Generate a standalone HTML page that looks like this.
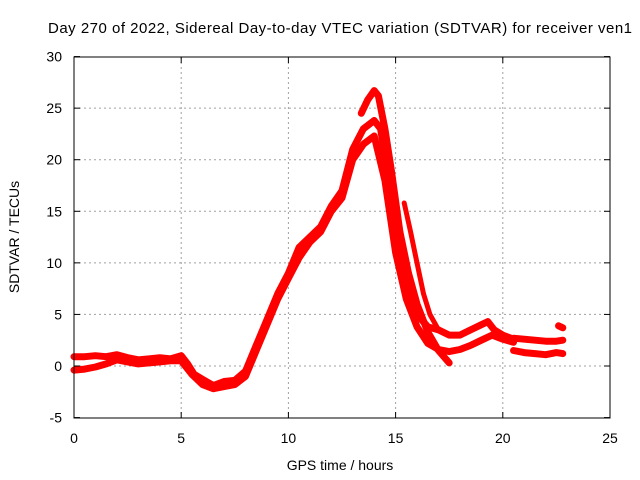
<!DOCTYPE html>
<html><head><meta charset="utf-8"><style>
body{margin:0;background:#fff;}
svg{display:block;font-family:"Liberation Sans",sans-serif;}
</style></head><body>
<svg id="chart" width="640" height="480" viewBox="0 0 640 480">
<text x="340" y="33" font-size="15" text-anchor="middle" textLength="584" lengthAdjust="spacing">Day 270 of 2022, Sidereal Day-to-day VTEC variation (SDTVAR) for receiver ven1</text>
<g id="grid"></g><g id="series"></g>
<rect x="74" y="57" width="536" height="361" fill="none" stroke="#000" stroke-width="1"/>
<g id="ticks"></g>
<text x="340" y="470" font-size="14" text-anchor="middle">GPS time / hours</text>
<text transform="translate(19,237) rotate(-90)" font-size="14" text-anchor="middle">SDTVAR / TECUs</text>
</svg>
<script>
const xTicks=[0,5,10,15,20,25];
const yTicks=[-5,0,5,10,15,20,25,30];
const hoursA=[0,0.5,1,1.5,2,2.5,3,3.5,4,4.5,5,5.3,5.6,6,6.5,7,7.5,8,8.5,9,9.5,10,10.5,11,11.5,12,12.5,13,13.5,14,14.3,14.6,15,15.5,16,16.5,17,17.5,18,18.5,19,19.3,19.6,20,20.5];
const valuesA=[0.9,0.9,1.0,0.9,1.1,0.8,0.6,0.7,0.8,0.7,1.0,0.2,-0.8,-1.3,-1.9,-1.5,-1.4,-0.5,2,4.5,7,9,11.5,12.5,13.5,15.5,17,21,23,23.8,23,19,13,8,5,3.8,3.5,3,3,3.5,4,4.3,3.5,3,2.6];
const hoursB=[0,0.5,1,1.5,2,2.5,3,3.5,4,4.5,5,5.5,6,6.5,7,7.5,8,8.5,9,9.5,10,10.5,11,11.5,12,12.5,13,13.5,14,14.5,15,15.5,16,16.5,17,17.5,18,18.5,19,19.5,20,20.5];
const valuesB=[-0.4,-0.3,-0.1,0.2,0.6,0.4,0.2,0.3,0.4,0.5,0.5,-0.8,-1.8,-2.2,-2.0,-1.8,-1.0,1.5,4,6.5,8.5,10.5,12,13,15,16.3,20,21.5,22.3,18,11,6.5,3.8,2.2,1.6,1.4,1.6,2,2.5,3,2.6,2.3];
const hoursC=[13.4,13.7,14,14.2,14.5,14.8,15.2,15.6,16,16.5,17,17.5];
const valuesC=[24.5,25.8,26.7,26.2,23,19,13,9,6,3.3,1.5,0.3];
const hoursD=[15.4,15.7,16,16.3,16.6,17,17.5];
const valuesD=[15.8,13,10,7,5,3.5,3];
const hoursE=[20.5,21,21.5,22,22.5,22.8];
const valuesE=[2.7,2.6,2.5,2.4,2.4,2.5];
const hoursF=[20.5,21,21.5,22,22.5,22.8];
const valuesF=[1.5,1.3,1.2,1.1,1.3,1.2];
const hoursG=[22.6,22.8];
const valuesG=[3.9,3.7];
const X=h=>74+h*536/25, Y=v=>366-v*361/35;
const ns="http://www.w3.org/2000/svg";
const grid=document.getElementById('grid'),ticks=document.getElementById('ticks'),ser=document.getElementById('series');
function mk(t,a,p){const e=document.createElementNS(ns,t);for(const k in a)e.setAttribute(k,a[k]);p.appendChild(e);return e;}
xTicks.forEach(t=>{const x=X(t);
 if(t>0&&t<25){const g=mk('line',{x1:x,x2:x,y1:57,y2:418,stroke:'#a0a0a0','stroke-dasharray':'2,3'},grid);
 
 }
 mk('line',{x1:x,x2:x,y1:418,y2:412,stroke:'#000'},ticks);mk('line',{x1:x,x2:x,y1:57,y2:63,stroke:'#000'},ticks);
 const l=mk('text',{x:x,y:443,'font-size':14,'text-anchor':'middle'},ticks);l.textContent=t;
 
 });
yTicks.forEach(t=>{const y=Y(t);
 if(t>-5&&t<30){const g=mk('line',{x1:74,x2:610,y1:y,y2:y,stroke:'#a0a0a0','stroke-dasharray':'2,3'},grid);
 
 }
 mk('line',{x1:74,x2:80,y1:y,y2:y,stroke:'#000'},ticks);mk('line',{x1:610,x2:604,y1:y,y2:y,stroke:'#000'},ticks);
 const l=mk('text',{x:62,y:y+5,'font-size':14,'text-anchor':'end'},ticks);l.textContent=t;
 
 });
const tracks=[[hoursA,valuesA],[hoursB,valuesB],[hoursC,valuesC],[hoursD,valuesD],[hoursE,valuesE],[hoursF,valuesF],[hoursG,valuesG]];
tracks.forEach(([hs,vs],i)=>{
 const pts=hs.map((h,j)=>X(h).toFixed(1)+','+Y(vs[j]).toFixed(1)).join(' ');
 const p=mk('polyline',{points:pts,fill:'none',stroke:'#ff0000','stroke-width':i==3?5:7,'stroke-linejoin':'round','stroke-linecap':'round'},ser);
 
 
});
</script>
</body></html>
